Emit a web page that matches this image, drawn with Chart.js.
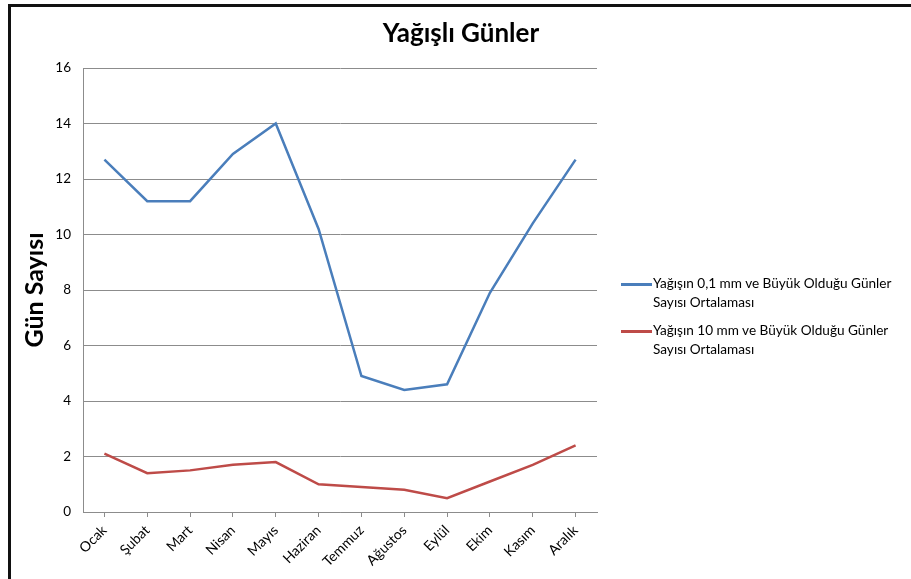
<!DOCTYPE html>
<html lang="tr">
<head>
<meta charset="utf-8">
<title>Yağışlı Günler</title>
<script src="https://cdn.jsdelivr.net/npm/chart.js@4/dist/chart.umd.min.js"></script>
<style>
  html, body { margin: 0; padding: 0; background: #fff; }
  body { width: 911px; height: 579px; position: relative; overflow: hidden; font-family: Lato, "Open Sans", sans-serif; }
  #frame { position: absolute; left: 8px; top: 4px; width: 1000px; height: 700px; border-top: 3px solid #111; border-left: 3px solid #111; box-sizing: border-box; }
  #grafik { position: absolute; left: 0; top: 0; }
  #legend { position: absolute; left: 621px; top: 274px; width: 290px; font-size: 13.6px; line-height: 19px; color: #000; }
  .legend-item { position: relative; padding-left: 32px; margin-bottom: 9px; }
  .legend-item span.line { position: absolute; left: 0; top: 9px; width: 31px; height: 3px; }
</style>
</head>
<body>
<div id="frame"></div>
<canvas id="grafik" width="911" height="579"></canvas>
<div id="legend"></div>
<script>
const months = ["Ocak", "Şubat", "Mart", "Nisan", "Mayıs", "Haziran", "Temmuz", "Ağustos", "Eylül", "Ekim", "Kasım", "Aralık"];
const over01mm = [12.7, 11.2, 11.2, 12.9, 14.0, 10.2, 4.9, 4.4, 4.6, 7.9, 10.4, 12.7];
const over10mm = [2.1, 1.4, 1.5, 1.7, 1.8, 1.0, 0.9, 0.8, 0.5, 1.1, 1.7, 2.4];
const seriesNames = [
  "Yağışın 0,1 mm ve Büyük Olduğu Günler Sayısı Ortalaması",
  "Yağışın 10 mm ve Büyük Olduğu Günler Sayısı Ortalaması",
];
const yTicks = [0, 2, 4, 6, 8, 10, 12, 14, 16];

const colors = ["#4a7ebb", "#be4b48"];
const gridColor = "#8c8c8c";
const fontFamily = "Lato, 'Open Sans', sans-serif";

function buildLegend(chart) {
  const box = document.getElementById("legend");
  chart.data.datasets.forEach((ds) => {
    const item = document.createElement("div");
    item.className = "legend-item";
    const line = document.createElement("span");
    line.className = "line";
    line.style.background = ds.borderColor;
    item.appendChild(line);
    item.appendChild(document.createTextNode(ds.label));
    box.appendChild(item);
  });
}

const chart = new Chart(document.getElementById("grafik"), {
  type: "line",
  data: {
    labels: months,
    datasets: [over01mm, over10mm].map((values, i) => ({
      label: seriesNames[i],
      data: values,
      borderColor: colors[i],
      backgroundColor: colors[i],
      borderWidth: 2.5,
      pointRadius: 0,
      tension: 0,
      fill: false,
    })),
  },
  options: {
    responsive: false,
    animation: false,
    layout: { padding: { left: 11, right: 0, top: 0, bottom: 0 } },
    plugins: {
      legend: { display: false },
      tooltip: { enabled: false },
      title: {
        display: true,
        text: "Yağışlı Günler",
        color: "#000",
        font: { family: fontFamily, size: 26, weight: "bold" },
        padding: { top: 18, bottom: 18.8 },
      },
    },
    scales: {
      x: {
        offset: true,
        grid: { drawOnChartArea: false, offset: false, color: gridColor, tickLength: 5 },
        border: { color: gridColor, width: 1 },
        ticks: {
          color: "#000",
          font: { family: fontFamily, size: 14 },
          maxRotation: 45,
          minRotation: 45,
          padding: 5,
          autoSkip: false,
        },
        afterFit: (scale) => { scale.height = 67; },
      },
      y: {
        min: yTicks[0],
        max: yTicks[yTicks.length - 1],
        afterBuildTicks: (scale) => { scale.ticks = yTicks.map((v) => ({ value: v })); },
        grid: { color: gridColor, drawTicks: false },
        border: { color: gridColor, width: 1 },
        ticks: {
          color: "#000",
          font: { family: fontFamily, size: 13.5 },
          padding: 12,
        },
        title: {
          display: true,
          text: "Gün Sayısı",
          color: "#000",
          font: { family: fontFamily, size: 25, weight: "bold" },
          padding: { top: 9, bottom: 0 },
        },
        afterFit: (scale) => { scale.width = 72; },
      },
      // empty right-hand axis that only reserves the legend's room
      legendSpace: {
        type: "linear",
        position: "right",
        grid: { display: false },
        border: { display: false },
        ticks: { display: false },
        afterFit: (scale) => { scale.width = 314; },
      },
    },
  },
});

buildLegend(chart);
</script>
</body>
</html>
